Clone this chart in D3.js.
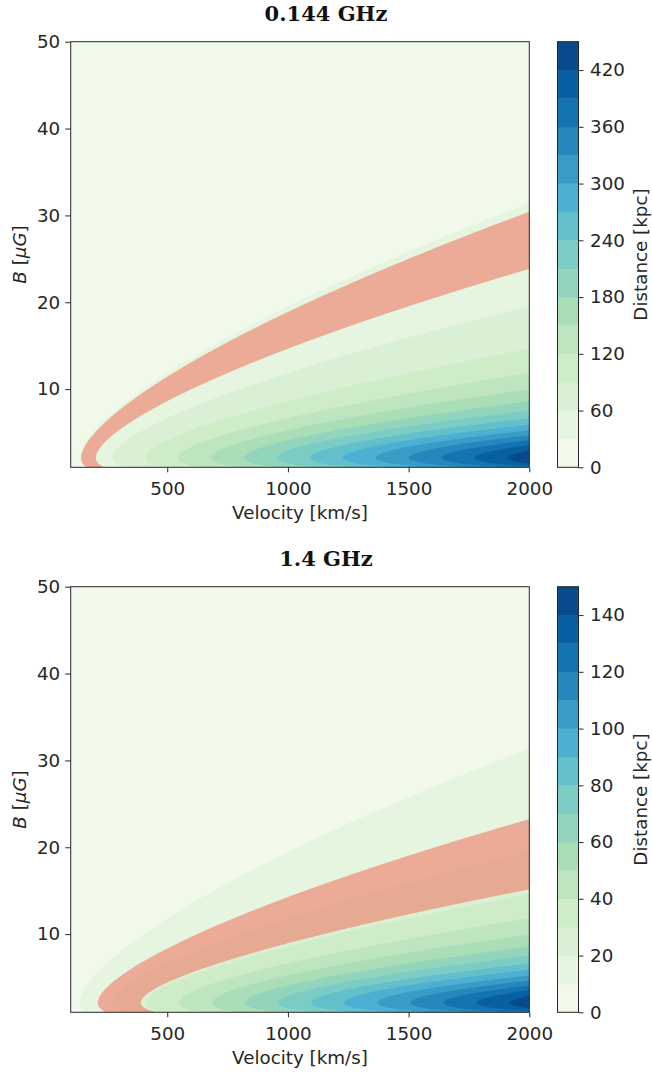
<!DOCTYPE html>
<html><head><meta charset="utf-8">
<script src="https://cdn.jsdelivr.net/npm/d3@7"></script>
<style>body{margin:0;background:#fff} svg{display:block}</style>
</head><body>
<svg id="c" width="652" height="1076"></svg>
<script>
// ---------------- data ----------------
const panelTitles   = ["0.144 GHz", "1.4 GHz"];
const vRange        = [100, 2000];          // velocity axis [km/s]
const bRange        = [1, 50];              // B axis [muG]
const xTicks        = [500, 1000, 1500, 2000];
const yTicks        = [10, 20, 30, 40, 50];
const peakDistance  = [440, 146];           // distance [kpc] at 2000 km/s, at the B of the maximum
const levelStep     = [30, 10];             // contour level spacing [kpc]
const levelMax      = [450, 150];           // top of colour bar [kpc]
const cbarTicks     = [[0, 60, 120, 180, 240, 300, 360, 420], [0, 20, 40, 60, 80, 100, 120, 140]];
const redBand       = [[31.5, 45], [15.5, 28.5]];  // highlighted distance range [kpc]
const bCMB          = 3.64;                 // equivalent CMB field [muG] (max loss time at bCMB/sqrt(3))

// synchrotron + inverse-Compton loss model: distance = v * t, t ~ B^0.5/(B^2+B_CMB^2)
const lossTime = B => Math.sqrt(B) / (B * B + bCMB * bCMB);
const tPeak = lossTime(bCMB / Math.sqrt(3));
const distance = (v, B, p) => peakDistance[p] * (v / 2000) * lossTime(B) / tPeak;

// ---------------- drawing ----------------
const svg = d3.select('#c');
const gnbuStops = ["#f7fcf0","#e0f3db","#ccebc5","#a8ddb5","#7bccc4","#4eb3d3","#2b8cbe","#0868ac","#084081"];
const gnbu = d3.scaleLinear().domain(d3.range(9).map(i => i / 8)).range(gnbuStops).interpolate(d3.interpolateRgb);

const L = { left: 70.7, right: 529.3, tops: [41.7, 586.7], h: 425.6, cbX: 557.5, cbW: 21, titleX: 326 };
const tickFont = "DejaVu Sans, Verdana, sans-serif";
const ink = "#262626";

panelTitles.forEach((title, p) => {
  const top = L.tops[p], bottom = top + L.h;
  const x = d3.scaleLinear().domain(vRange).range([L.left, L.right]);
  const y = d3.scaleLinear().domain(bRange).range([bottom, top]);
  const levels = d3.range(0, levelMax[p] + 1e-9, levelStep[p]);
  const bandColor = k => gnbu(((levels[k] + levels[k + 1]) / 2) / levelMax[p]);

  // grid of the field
  const nx = 460, ny = 430;
  const dv = (vRange[1] - vRange[0]) / nx, dB = (bRange[1] - bRange[0]) / ny;
  const values = new Float64Array(nx * ny);
  for (let j = 0; j < ny; j++) {
    const B = bRange[1] - (j + 0.5) * dB;
    for (let i = 0; i < nx; i++) {
      const v = vRange[0] + (i + 0.5) * dv;
      values[j * nx + i] = distance(v, B, p);
    }
  }
  const proj = d3.geoTransform({
    point(cx, cy) { this.stream.point(x(vRange[0] + cx * dv), y(bRange[1] - cy * dB)); }
  });
  const path = d3.geoPath(proj);

  const clipId = "clip" + p;
  svg.append("clipPath").attr("id", clipId).append("rect")
    .attr("x", L.left).attr("y", top).attr("width", L.right - L.left).attr("height", L.h);
  const g = svg.append("g").attr("clip-path", `url(#${clipId})`);

  g.append("rect").attr("x", L.left).attr("y", top).attr("width", L.right - L.left).attr("height", L.h)
    .attr("fill", bandColor(0));
  const cs = d3.contours().size([nx, ny]).thresholds(levels.slice(1, -1))(values);
  g.selectAll("path.band").data(cs).join("path").attr("class", "band")
    .attr("d", path).attr("fill", (d, k) => bandColor(k + 1));

  // highlighted band
  const rc = d3.contours().size([nx, ny]).thresholds(redBand[p])(values);
  g.append("path").attr("d", path(rc[0]) + path(rc[1]))
    .attr("fill-rule", "evenodd").attr("fill", "#ee7a66").attr("fill-opacity", 0.6);

  // frame
  svg.append("rect").attr("x", L.left).attr("y", top).attr("width", L.right - L.left).attr("height", L.h)
    .attr("fill", "none").attr("stroke", ink).attr("stroke-width", 1);

  // axes
  const ax = svg.append("g").attr("transform", `translate(0,${bottom})`)
    .call(d3.axisBottom(x).tickValues(xTicks).tickFormat(d3.format("d")).tickSize(5).tickPadding(9.5).tickSizeOuter(0));
  const ay = svg.append("g").attr("transform", `translate(${L.left},0)`)
    .call(d3.axisLeft(y).tickValues(yTicks).tickFormat(d3.format("d")).tickSize(5.5).tickPadding(5).tickSizeOuter(0));
  [ax, ay].forEach(a => {
    a.select(".domain").remove();
    a.selectAll("line").attr("stroke", ink);
    a.selectAll("text").attr("font-family", tickFont).attr("font-size", 18.3).attr("fill", ink);
  });

  // axis labels
  svg.append("text").attr("x", (L.left + L.right) / 2).attr("y", bottom + 52)
    .attr("text-anchor", "middle").attr("font-family", tickFont).attr("font-size", 18.3).attr("fill", ink)
    .text("Velocity [km/s]");
  const yl = svg.append("text").attr("transform", `translate(26,${(top + bottom) / 2}) rotate(-90)`)
    .attr("text-anchor", "middle").attr("font-family", tickFont).attr("font-size", 18.3).attr("fill", ink);
  yl.append("tspan").attr("font-style", "italic").text("B");
  yl.append("tspan").text(" [");
  yl.append("tspan").attr("font-style", "italic").text("μG");
  yl.append("tspan").text("]");

  // title
  svg.append("text").attr("x", L.titleX).attr("y", top - 21)
    .attr("text-anchor", "middle").attr("font-family", "DejaVu Serif, serif").attr("font-weight", "bold")
    .attr("font-size", 21).attr("fill", "#111").text(title);

  // colour bar
  const cy = d3.scaleLinear().domain([0, levelMax[p]]).range([bottom, top]);
  svg.append("g").selectAll("rect").data(d3.range(levels.length - 1)).join("rect")
    .attr("x", L.cbX).attr("width", L.cbW)
    .attr("y", k => cy(levels[k + 1])).attr("height", k => cy(levels[k]) - cy(levels[k + 1]) + 0.3)
    .attr("fill", k => bandColor(k));
  svg.append("rect").attr("x", L.cbX).attr("y", top).attr("width", L.cbW).attr("height", L.h)
    .attr("fill", "none").attr("stroke", ink).attr("stroke-width", 1);
  const ac = svg.append("g").attr("transform", `translate(${L.cbX + L.cbW},0)`)
    .call(d3.axisRight(cy).tickValues(cbarTicks[p]).tickSize(5).tickPadding(6.5).tickSizeOuter(0));
  ac.select(".domain").remove();
  ac.selectAll("line").attr("stroke", ink);
  ac.selectAll("text").attr("font-family", tickFont).attr("font-size", 18.3).attr("fill", ink);
  svg.append("text").attr("transform", `translate(647,${(top + bottom) / 2}) rotate(-90)`)
    .attr("text-anchor", "middle").attr("font-family", tickFont).attr("font-size", 18.3).attr("fill", ink)
    .text("Distance [kpc]");
});
</script>
</body></html>
